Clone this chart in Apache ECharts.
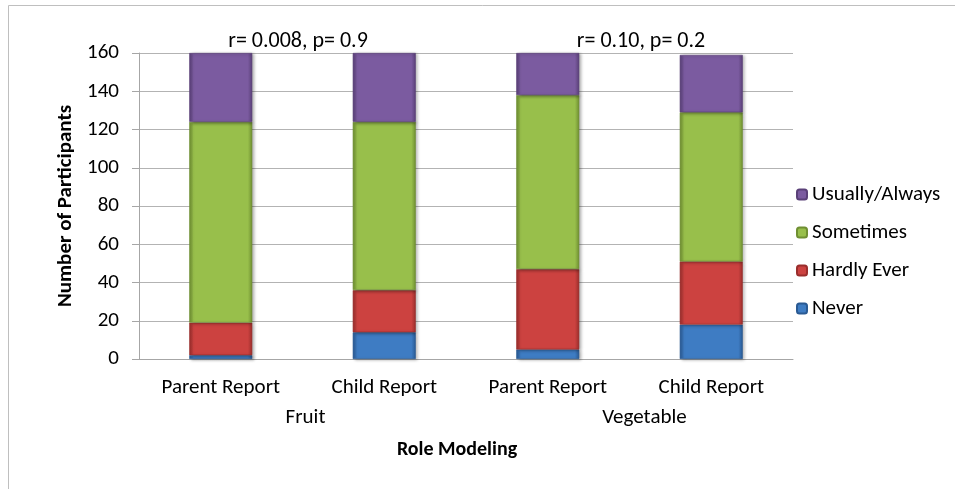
<!DOCTYPE html>
<html>
<head>
<meta charset="utf-8">
<script src="https://cdn.jsdelivr.net/npm/echarts@6/dist/echarts.min.js"></script>
<style>
  html, body { margin: 0; padding: 0; background: #ffffff; }
  #chart { width: 955px; height: 489px; }
</style>
</head>
<body>
<div id="chart"></div>
<script>
// Report groups along the x axis
const reports = ['Parent Report', 'Child Report', 'Parent Report', 'Child Report'];
const foods = ['Fruit', 'Vegetable'];
const yTicks = [0, 20, 40, 60, 80, 100, 120, 140, 160];

// Number of participants per response
const never = [2, 14, 5, 18];
const hardlyEver = [17, 22, 42, 33];
const sometimes = [105, 88, 91, 78];
const usuallyAlways = [36, 36, 22, 30];

// Correlation notes shown above each food group
const notes = ['r= 0.008, p= 0.9', 'r= 0.10, p= 0.2'];

const FONT = 'Carlito, Lato, sans-serif';

function bevel(base, edge) {
  return {
    type: 'linear', x: 0, y: 0, x2: 1, y2: 0,
    colorStops: [
      { offset: 0, color: edge },
      { offset: 0.07, color: base },
      { offset: 0.93, color: base },
      { offset: 1, color: edge }
    ]
  };
}

function stackSeries(name, data, base, edge) {
  return {
    name: name,
    type: 'bar',
    stack: 'total',
    xAxisIndex: 0,
    yAxisIndex: 0,
    barWidth: 63,
    data: data,
    itemStyle: {
      color: bevel(base, edge),
      borderColor: edge,
      borderWidth: 0.6,
      shadowColor: 'rgba(0,0,0,0.35)',
      shadowBlur: 3,
      shadowOffsetX: 2,
      shadowOffsetY: 1
    },
    emphasis: { disabled: true }
  };
}

const chart = echarts.init(document.getElementById('chart'), null, { renderer: 'canvas' });

chart.setOption({
  animation: false,
  backgroundColor: '#ffffff',
  textStyle: { fontFamily: FONT },
  grid: [
    { left: 139, top: 53, width: 654, height: 306 },
    { left: 136, top: 53, width: 678, height: 306 }
  ],
  legend: {
    orient: 'vertical',
    left: 791,
    top: 177,
    itemWidth: 10,
    itemHeight: 10,
    itemGap: 13,
    data: ['Usually/Always', 'Sometimes', 'Hardly Ever', 'Never'],
    textStyle: { fontFamily: FONT, fontSize: 21, lineHeight: 25, color: '#000' }
  },
  xAxis: [
    {
      type: 'category',
      gridIndex: 0,
      data: reports,
      axisLine: { lineStyle: { color: '#a6a6a6', width: 1 } },
      axisTick: { show: false },
      axisLabel: { margin: 18, fontFamily: FONT, fontSize: 21, color: '#000' }
    },
    {
      type: 'category',
      gridIndex: 1,
      data: foods,
      axisLine: { show: false },
      axisTick: { show: false },
      axisLabel: { margin: 48, fontFamily: FONT, fontSize: 21, color: '#000' }
    }
  ],
  yAxis: [
    {
      type: 'value',
      gridIndex: 0,
      min: 0,
      max: 160,
      interval: 20,
      name: 'Number of Participants',
      nameLocation: 'middle',
      nameGap: 61,
      nameTextStyle: { fontFamily: FONT, fontSize: 21, fontWeight: 'bold', color: '#000' },
      axisLine: { show: true, lineStyle: { color: '#a6a6a6' } },
      axisTick: { show: true, length: 7, lineStyle: { color: '#a6a6a6' } },
      splitLine: { lineStyle: { color: '#b3b3b3', width: 1.2 } },
      axisLabel: {
        margin: 20, fontFamily: FONT, fontSize: 21, color: '#000',
        formatter: function (v) { return yTicks.indexOf(v) >= 0 ? String(v) : ''; }
      }
    },
    { type: 'value', gridIndex: 1, show: false, min: 0, max: 160 }
  ],
  graphic: [
    {
      type: 'rect', silent: true, z: -10,
      shape: { x: 8.5, y: 5.5, width: 1000, height: 1000 },
      style: { fill: 'none', stroke: '#bfbfbf', lineWidth: 1 }
    },
    {
      type: 'text', silent: true,
      x: 298, y: 30,
      style: { text: notes[0], fontFamily: FONT, fontSize: 22, fill: '#000', textAlign: 'center' }
    },
    {
      type: 'text', silent: true,
      x: 641, y: 30,
      style: { text: notes[1], fontFamily: FONT, fontSize: 22, fill: '#000', textAlign: 'center' }
    },
    {
      type: 'text', silent: true,
      x: 457, y: 440,
      style: { text: 'Role Modeling', fontFamily: FONT, fontSize: 20, fontWeight: 'bold', fill: '#000', textAlign: 'center' }
    }
  ],
  series: [
    stackSeries('Never', never, '#3e7cc3', '#2a5a93'),
    stackSeries('Hardly Ever', hardlyEver, '#cc4240', '#9a2e2c'),
    stackSeries('Sometimes', sometimes, '#98bf4b', '#6f8f32'),
    stackSeries('Usually/Always', usuallyAlways, '#7b5ba0', '#5a4078')
  ]
});
</script>
</body>
</html>
